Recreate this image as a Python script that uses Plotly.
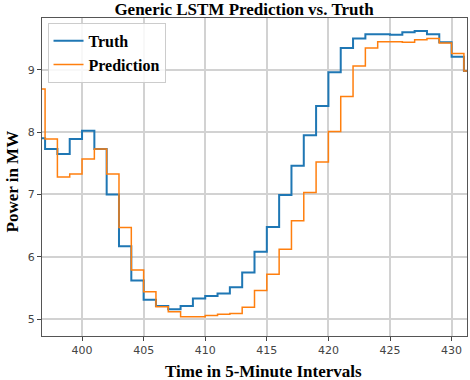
"""
Generic LSTM prediction vs. truth, step chart recreated with plotly
"""

import plotly.graph_objects as go

# time index (5-minute intervals)
time_steps = list(range(396, 433))

# measured power in MW
truth_mw = [
    7.90, 7.73, 7.65, 7.89, 8.02, 7.73, 7.00, 6.17, 5.62, 5.31,
    5.21, 5.16, 5.21, 5.33, 5.37, 5.41, 5.51, 5.75, 6.08, 6.48,
    6.99, 7.46, 7.95, 8.42, 8.96, 9.35, 9.50, 9.57, 9.57, 9.56,
    9.60, 9.62, 9.57, 9.44, 9.21, 8.98, 8.98,
]

# LSTM prediction in MW
prediction_mw = [
    8.69, 7.89, 7.28, 7.33, 7.57, 7.73, 7.33, 6.47, 5.79, 5.44,
    5.20, 5.12, 5.04, 5.04, 5.06, 5.08, 5.09, 5.19, 5.46, 5.72,
    6.12, 6.58, 7.03, 7.52, 8.01, 8.57, 9.06, 9.35, 9.45, 9.45,
    9.44, 9.48, 9.50, 9.43, 9.26, 8.98, 8.98,
]

x_ticks = [400, 405, 410, 415, 420, 425, 430]
y_ticks = [5, 6, 7, 8, 9]

SERIF = "Liberation Serif, Times New Roman, serif"
SANS = "DejaVu Sans, sans-serif"


def create_chart():
    """Build the truth / prediction step chart"""
    fig = go.Figure()

    # truth line (drawn first, prediction sits on top)
    fig.add_trace(go.Scatter(
        x=time_steps,
        y=truth_mw,
        name="Truth",
        mode="lines",
        line=dict(color="#1f77b4", width=2, shape="hv"),
    ))

    fig.add_trace(go.Scatter(
        x=time_steps,
        y=prediction_mw,
        name="Prediction",
        mode="lines",
        line=dict(color="#ff7f0e", width=1.5, shape="hv"),
    ))

    fig.update_layout(
        width=470,
        height=380,
        margin=dict(l=42, r=3, t=18, b=44),
        paper_bgcolor="white",
        plot_bgcolor="white",
        title=dict(
            text="Generic LSTM Prediction vs. Truth",
            font=dict(family=SERIF, size=17, color="black", weight="bold"),
            x=244 / 470,
            xanchor="center",
            y=1 - 9 / 380,
            yanchor="middle",
        ),
        legend=dict(
            x=0.013,
            y=0.985,
            xanchor="left",
            yanchor="top",
            bgcolor="rgba(255,255,255,0.85)",
            bordercolor="#cccccc",
            borderwidth=1,
            font=dict(family=SERIF, size=16, color="black", weight="bold"),
            tracegroupgap=0,
        ),
        showlegend=True,
    )

    fig.update_xaxes(
        range=[396.75, 431.25],
        tickvals=x_ticks,
        ticks="outside",
        ticklen=4,
        tickcolor="#444",
        tickfont=dict(family=SANS, size=11, color="#444"),
        showgrid=True,
        gridcolor="#d2d2d2",
        gridwidth=1.5,
        zeroline=False,
        showline=True,
        linecolor="#555",
        linewidth=1,
        mirror=True,
    )
    fig.update_yaxes(
        range=[4.73, 9.83],
        tickvals=y_ticks,
        ticks="outside",
        ticklen=4,
        tickcolor="#444",
        tickfont=dict(family=SANS, size=11, color="#444"),
        showgrid=True,
        gridcolor="#d2d2d2",
        gridwidth=1.5,
        zeroline=False,
        showline=True,
        linecolor="#555",
        linewidth=1,
        mirror=True,
    )

    # axis labels as annotations so they sit where the original has them
    fig.add_annotation(
        text="Time in 5-Minute Intervals",
        xref="paper", yref="paper",
        x=(263 - 42) / 425, y=-(371 - 336) / 318,
        xanchor="center", yanchor="middle",
        showarrow=False,
        font=dict(family=SERIF, size=17, color="black", weight="bold"),
    )
    fig.add_annotation(
        text="Power in MW",
        xref="paper", yref="paper",
        x=-(42 - 11.5) / 425, y=(336 - 182) / 318,
        xanchor="center", yanchor="middle",
        textangle=-90,
        showarrow=False,
        font=dict(family=SERIF, size=17, color="black", weight="bold"),
    )

    # drop the browser's default 8px body margin so the figure sits at 0,0
    fig.write_html(
        "out.html",
        config={"displayModeBar": False},
        post_script="document.body.style.margin = '0';",
    )
    print("Chart saved: out.html")
    return fig


if __name__ == "__main__":
    create_chart()
